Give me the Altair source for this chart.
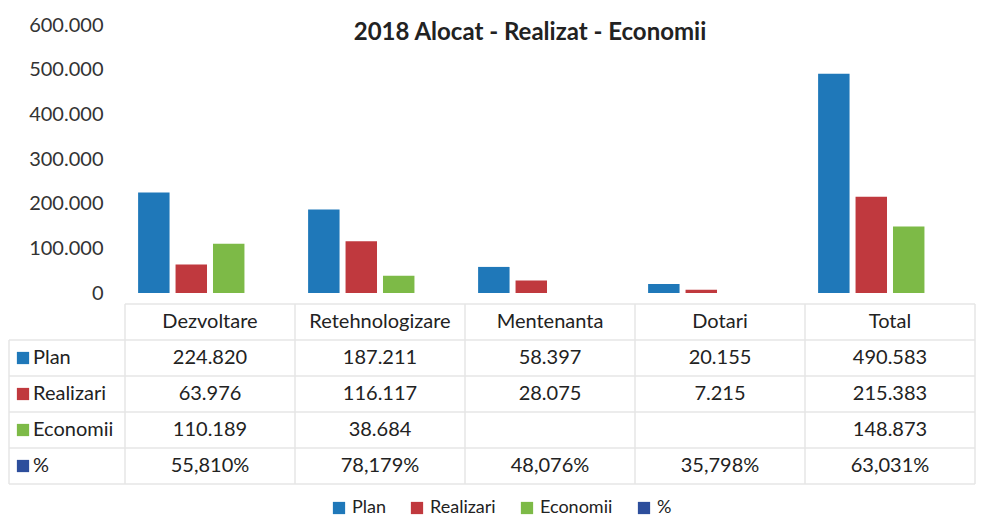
import altair as alt
import pandas as pd

# ---- data ----
categories = ["Dezvoltare", "Retehnologizare", "Mentenanta", "Dotari", "Total"]
series = ["Plan", "Realizari", "Economii", "%"]
plan = [224820, 187211, 58397, 20155, 490583]
realizari = [63976, 116117, 28075, 7215, 215383]
economii = [110189, 38684, None, None, 148873]
procent = ["55,810%", "78,179%", "48,076%", "35,798%", "63,031%"]
y_ticks = [0, 100000, 200000, 300000, 400000, 500000, 600000]
colors = ["#1F78B9", "#C0393E", "#7DBA47", "#2D4E9C"]
title_text = "2018 Alocat - Realizat - Economii"

FONT = "Lato"
W = 850
H_BAR = 268
ROW_H = 36
TEXT_COLOR = "#222222"
LINE_COLOR = "#e6e6e6"


def fmt(v):
    return "" if v is None else f"{v:,}".replace(",", ".")


# long table for bars
bar_rows = []
for name, vals in zip(series[:3], [plan, realizari, economii]):
    for c, v in zip(categories, vals):
        if v is not None:
            bar_rows.append({"cat": c, "series": name, "value": v})
bar_df = pd.DataFrame(bar_rows)

# table cells
table_rows_keys = ["hdr"] + series
cell_rows = []
for c in categories:
    cell_rows.append({"cat": c, "row": "hdr", "text": c})
for i, c in enumerate(categories):
    cell_rows.append({"cat": c, "row": "Plan", "text": fmt(plan[i])})
    cell_rows.append({"cat": c, "row": "Realizari", "text": fmt(realizari[i])})
    cell_rows.append({"cat": c, "row": "Economii", "text": fmt(economii[i])})
    cell_rows.append({"cat": c, "row": "%", "text": procent[i]})
cell_df = pd.DataFrame(cell_rows)

label_df = pd.DataFrame({"row": series, "col": colors})

x_scale = alt.Scale(domain=categories, paddingInner=0, paddingOuter=0)
y_tab_scale = alt.Scale(domain=table_rows_keys, paddingInner=0, paddingOuter=0)

bars = alt.Chart(bar_df).mark_bar().encode(
    x=alt.X("cat:N", scale=x_scale, axis=None),
    xOffset=alt.XOffset("series:N", scale=alt.Scale(domain=series, paddingInner=0.16, paddingOuter=0.35)),
    y=alt.Y(
        "value:Q",
        scale=alt.Scale(domain=[0, 600000]),
        axis=alt.Axis(
            values=y_ticks,
            labelExpr="replace(format(datum.value, ','), ',', '.')",
            grid=False, ticks=False, domain=False,
            labelFontSize=20, labelFont=FONT, labelColor="#333333",
            labelPadding=22, title=None,
        ),
    ),
    color=alt.Color(
        "series:N",
        scale=alt.Scale(domain=series, range=colors),
        legend=alt.Legend(
            title=None, orient="none", direction="horizontal",
            legendX=205, legendY=474,
            symbolType="square", symbolSize=150, symbolStrokeWidth=0,
            labelFontSize=18, labelFont=FONT, labelColor=TEXT_COLOR,
            columnPadding=22, symbolOffset=0,
        ),
    ),
).properties(
    width=W, height=H_BAR,
    title=alt.TitleParams(
        title_text, fontSize=24, font=FONT, fontWeight="bold", color=TEXT_COLOR,
        anchor="middle", dx=-20, dy=34,
    ),
)

# ---- table ----
cells = alt.Chart(cell_df).mark_text(fontSize=20, font=FONT, color=TEXT_COLOR).encode(
    x=alt.X("cat:N", scale=x_scale, axis=None),
    y=alt.Y("row:N", scale=y_tab_scale, axis=None),
    text="text:N",
)

row_labels = alt.Chart(label_df).mark_text(fontSize=20, font=FONT, color=TEXT_COLOR, align="left").encode(
    x=alt.value(-92),
    y=alt.Y("row:N", scale=y_tab_scale, axis=None),
    text="row:N",
)

row_squares = alt.Chart(label_df).mark_square(size=150, opacity=1).encode(
    x=alt.value(-102),
    y=alt.Y("row:N", scale=y_tab_scale, axis=None),
    color=alt.Color("col:N", scale=None),
)

hline_df = pd.DataFrame({"row": series})
hlines = alt.Chart(hline_df).mark_rule(color=LINE_COLOR, strokeWidth=1.5).encode(
    y=alt.Y("row:N", scale=y_tab_scale, axis=None, bandPosition=0),
    x=alt.value(-116), x2=alt.value(W),
)
bottom_line = alt.Chart(pd.DataFrame({"row": ["%"]})).mark_rule(color=LINE_COLOR, strokeWidth=1.5).encode(
    y=alt.Y("row:N", scale=y_tab_scale, axis=None, bandPosition=1),
    x=alt.value(-116), x2=alt.value(W),
)
top_line = alt.Chart(pd.DataFrame({"row": ["hdr"]})).mark_rule(color=LINE_COLOR, strokeWidth=1.5).encode(
    y=alt.Y("row:N", scale=y_tab_scale, axis=None, bandPosition=0),
    x=alt.value(0), x2=alt.value(W),
)
vline_df = pd.DataFrame({"cat": categories})
vlines = alt.Chart(vline_df).mark_rule(color=LINE_COLOR, strokeWidth=1.5).encode(
    x=alt.X("cat:N", scale=x_scale, axis=None, bandPosition=0),
    y=alt.value(0), y2=alt.value(ROW_H * 5),
)
right_line = alt.Chart(pd.DataFrame({"cat": ["Total"]})).mark_rule(color=LINE_COLOR, strokeWidth=1.5).encode(
    x=alt.X("cat:N", scale=x_scale, axis=None, bandPosition=1),
    y=alt.value(0), y2=alt.value(ROW_H * 5),
)
left_line = alt.Chart(pd.DataFrame({"row": ["Plan"]})).mark_rule(color=LINE_COLOR, strokeWidth=1.5).encode(
    y=alt.Y("row:N", scale=y_tab_scale, axis=None, bandPosition=0),
    y2=alt.value(ROW_H * 5),
    x=alt.value(-116),
)

table = alt.layer(
    hlines, bottom_line, top_line, vlines, right_line, left_line,
    row_squares, row_labels, cells,
).properties(width=W, height=ROW_H * 5)

chart = alt.vconcat(bars, table, spacing=0).properties(
    padding={"left": 0, "top": 7, "right": 0, "bottom": 0},
).configure_view(strokeWidth=0, stroke="transparent")

chart.save("out.html", embed_options={"renderer": "svg", "actions": False})
